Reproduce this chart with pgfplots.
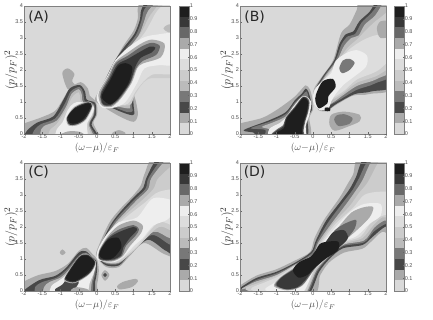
\documentclass[border=0pt]{standalone}
\usepackage{fontspec}
\setmainfont{Liberation Sans}
\newfontfamily\lab{DejaVu Sans}
\usepackage{pgfplots}
\pgfplotsset{compat=1.18}
\definecolor{c0}{HTML}{D9D9D9}
\definecolor{c1}{HTML}{AAAAAA}
\definecolor{c2}{HTML}{484848}
\definecolor{c3}{HTML}{787878}
\definecolor{c4}{HTML}{BBBBBB}
\definecolor{c5}{HTML}{CCCCCC}
\definecolor{c6}{HTML}{DDDDDD}
\definecolor{c7}{HTML}{EEEEEE}
\definecolor{c8}{HTML}{AAAAAA}
\definecolor{c9}{HTML}{686868}
\definecolor{c10}{HTML}{383838}
\definecolor{c11}{HTML}{1E1E1E}
\newcommand{\lv}[2]{\addplot[fill=#1,draw=none,smooth cycle] coordinates {#2};}
\newcommand{\band}[3]{\addplot[fill=#1,draw=none] coordinates {(0,#2) (1,#2) (1,#3) (0,#3)} --cycle;}
\pgfplotsset{
  panel/.style={
    scale only axis, width=146pt, height=128pt,
    xmin=-2, xmax=2, ymin=0, ymax=4,
    xtick={-2,-1.5,...,2}, ytick={0,0.5,...,4},
    xticklabels={-2,-1.5,-1,-0.5,0,0.5,1,1.5,2},
    yticklabels={0,0.5,1,1.5,2,2.5,3,3.5,4},
    tick pos=left, tick style={draw=black!60, line width=0.3pt}, major tick length=1.5pt,
    ticklabel style={font=\fontsize{5.5}{5.5}\selectfont, text=black!70, inner sep=0.8pt},
    axis line style={draw=black!50, line width=0.3pt},
    axis background/.style={fill=c0},
    xlabel={$(\omega{-}\mu)/\varepsilon_F$},
    ylabel={$(p/p_F)^2$},
    xlabel style={font=\fontsize{10}{10}\selectfont, at={(axis description cs:0.5,-0.11)}, anchor=center, text=black!70},
    ylabel style={font=\fontsize{12.5}{12.5}\selectfont, at={(axis description cs:-0.09,0.5)}, anchor=center, text=black!80},
    axis on top,
  },
  cbar/.style={
    scale only axis, width=10pt, height=128pt,
    xmin=0, xmax=1, ymin=0, ymax=1,
    xtick=\empty, ytick={0,0.1,...,1},
    yticklabels={0,0.1,0.2,0.3,0.4,0.5,0.6,0.7,0.8,0.9,1},
    ytick pos=right, yticklabel pos=right,
    tick style={draw=black!60, line width=0.3pt}, major tick length=1pt,
    ticklabel style={font=\fontsize{5.5}{5.5}\selectfont, text=black!70, inner sep=0.6pt},
    axis line style={draw=black!50, line width=0.4pt},
    axis on top,
  },
}
\newcommand{\colbar}{
  \band{c0}{0}{0.0833}\band{c1}{0.0833}{0.1667}\band{c2}{0.1667}{0.25}\band{c3}{0.25}{0.3333}
  \band{c4}{0.3333}{0.4167}\band{c5}{0.4167}{0.5}\band{c6}{0.5}{0.5833}\band{c7}{0.5833}{0.6667}
  \band{c8}{0.6667}{0.75}\band{c9}{0.75}{0.8333}\band{c10}{0.8333}{0.9167}\band{c11}{0.9167}{1}
}
\begin{document}
\begin{tikzpicture}[x=1pt,y=1pt]
\useasboundingbox (0,0) rectangle (433,320);

% panel A
\begin{axis}[panel, at={(24pt,186pt)}, anchor=south west]
\lv{c1}{(-0.95,1.9) (-0.8,2.05) (-0.62,1.88) (-0.68,1.65) (-0.55,1.45) (-0.8,1.4)}
\lv{c1}{(-2.2,0.25) (-2,0.33) (-1.5,0.53) (-1.15,0.72) (-0.95,1.05) (-0.75,1.42) (-0.45,1.62) (-0.25,1.42) (-0.2,1.2) (-0.08,1.08) (0,0.9) (0,0.6) (-0.1,0.35) (0.02,0.05) (0.1,-0.2) (-2.2,-0.2)}
\lv{c2}{(-1.95,0.05) (-1.65,0.35) (-1.2,0.55) (-0.92,1.07) (-0.74,1.43) (-0.47,1.53) (-0.33,1.33) (-0.28,1.07) (-0.05,0.97) (-0.03,0.6) (-0.15,0.3) (-0.05,-0.2) (-1.85,-0.2)}
\lv{c3}{(-1.75,0.05) (-1.55,0.3) (-1.15,0.48) (-0.88,0.95) (-0.72,1.33) (-0.48,1.47) (-0.38,1.3) (-0.33,1.02) (-0.08,0.93) (-0.08,0.6) (-0.2,0.3) (-0.1,-0.2) (-1.65,-0.2)}
\lv{c4}{(-1.55,0.05) (-1.45,0.25) (-1.1,0.42) (-0.85,0.85) (-0.7,1.25) (-0.5,1.4) (-0.42,1.25) (-0.38,1.0) (-0.1,0.9) (-0.1,0.6) (-0.22,0.3) (-0.15,-0.2) (-1.4,-0.2)}
\lv{c5}{(-1.3,0.1) (-1.1,0.32) (-0.85,0.75) (-0.68,1.15) (-0.5,1.3) (-0.45,1.05) (-0.42,1) (-0.1,0.88) (-0.12,0.6) (-0.25,0.3) (-0.2,-0.2) (-1.25,-0.2)}
\lv{c7}{(-1.1,0.15) (-0.95,0.35) (-0.8,0.75) (-0.65,0.95) (-0.45,1.0) (-0.1,0.85) (-0.14,0.6) (-0.28,0.3) (-0.3,-0.2) (-1.1,-0.2)}
\lv{c1}{(-1.1,-0.1) (-0.8,0.08) (-0.45,0.06) (-0.35,-0.1)}
\lv{c8}{(-0.84,0.5) (-0.62,0.85) (-0.24,1.02) (-0.12,0.88) (-0.3,0.45) (-0.55,0.27) (-0.78,0.27)}
\lv{c10}{(-0.82,0.52) (-0.6,0.83) (-0.24,0.99) (-0.14,0.87) (-0.32,0.47) (-0.56,0.3) (-0.76,0.3)}
\lv{c11}{(-0.79,0.55) (-0.6,0.8) (-0.24,0.96) (-0.17,0.86) (-0.35,0.5) (-0.56,0.34) (-0.74,0.34)}
\lv{c1}{(-0.05,1.12) (0.1,1.45) (0.45,2.2) (0.72,2.75) (1.0,3.22) (1.12,3.62) (1.12,3.95) (1.3,4.2) (2.3,4.2) (2.3,2.4) (1.4,2.1) (1.0,1.5) (1.08,0.95) (1.12,0.6) (1.0,0.38) (0.62,0.55) (0.17,0.85) (-0.03,1.0)}
\lv{c2}{(0.05,1.2) (0.42,2.15) (0.72,2.68) (1.02,3.12) (1.17,3.55) (1.22,3.9) (1.45,4.2) (2.3,4.2) (2.3,2.4) (1.4,2.1) (1.0,1.5) (1.0,0.95) (1.02,0.62) (0.9,0.6) (0.6,0.72) (0.3,0.88) (0.1,1.0)}
\lv{c3}{(0.1,1.2) (0.45,2.1) (0.78,2.65) (1.07,3.1) (1.22,3.55) (1.3,3.9) (1.6,4.2) (2.3,4.2) (2.3,2.4) (1.4,2.1) (1.0,1.5) (0.95,0.95) (0.98,0.72) (0.85,0.68) (0.6,0.78) (0.3,0.92) (0.12,1.0)}
\lv{c4}{(0.1,1.25) (0.5,2.1) (0.85,2.65) (1.15,3.1) (1.3,3.55) (1.4,3.85) (1.75,4.2) (2.3,4.2) (2.3,2.4) (1.4,2.1) (1.0,1.5) (0.9,0.95) (0.9,0.8) (0.6,0.85) (0.3,0.95)}
\lv{c5}{(0.1,1.25) (0.52,2.1) (0.9,2.7) (1.2,3.15) (1.4,3.6) (1.55,3.85) (1.85,4.2) (2.3,4.2) (2.3,1.95) (1.4,1.72) (1.05,1.25) (0.92,0.92) (0.6,0.9) (0.3,0.97)}
\lv{c6}{(0.1,1.25) (0.55,2.1) (1.0,2.75) (1.3,3.15) (1.5,3.55) (1.65,3.85) (2.0,4.2) (2.3,4.2) (2.3,2.05) (1.5,1.85) (1.1,1.4) (0.85,0.95) (0.5,0.9) (0.2,0.97)}
\lv{c4}{(1.82,3.3) (1.95,3.42) (2.2,3.4) (2.2,3.18) (1.95,3.18)}
\lv{c7}{(0.0,1.05) (0.02,1.28) (0.3,1.85) (0.5,2.3) (0.85,2.7) (1.25,3.0) (1.6,3.1) (2.2,3.1) (2.2,2.2) (1.7,2.15) (1.3,2.05) (1.1,1.6) (0.78,1.0) (0.45,0.82) (0.15,0.82)}
\lv{c8}{(0.07,1.02) (0.05,1.3) (0.3,1.8) (0.5,2.25) (0.85,2.55) (1.2,2.82) (1.5,2.95) (1.85,2.82) (1.75,2.4) (1.25,2.2) (1.1,2.05) (0.95,1.6) (0.65,1.1) (0.4,0.85) (0.15,0.87)}
\lv{c9}{(0.1,1.05) (0.1,1.3) (0.33,1.78) (0.52,2.22) (0.85,2.45) (1.2,2.72) (1.5,2.85) (1.72,2.75) (1.62,2.47) (1.25,2.28) (1.07,2.05) (0.92,1.6) (0.62,1.1) (0.38,0.88) (0.17,0.9)}
\lv{c10}{(0.12,1.08) (0.12,1.28) (0.35,1.73) (0.56,2.17) (0.85,2.35) (1.15,2.55) (1.45,2.73) (1.6,2.7) (1.5,2.55) (1.2,2.38) (1.05,2.1) (0.9,1.6) (0.6,1.12) (0.36,0.9) (0.17,0.93)}
\lv{c11}{(0.17,1.07) (0.14,1.23) (0.37,1.69) (0.58,2.13) (0.81,2.21) (0.97,2.06) (0.86,1.59) (0.58,1.12) (0.36,0.93)}
\lv{c1}{(0.42,0.03) (0.6,0.12) (0.78,0.03) (0.7,-0.1) (0.45,-0.1)}
\node[font=\lab\fontsize{14}{14}\selectfont, text=black!85] at (rel axis cs:0.1,0.91) {(A)};
\end{axis}
\begin{axis}[cbar, at={(179pt,186pt)}, anchor=south west]
\colbar
\end{axis}

% panel B
\begin{axis}[panel, at={(240pt,186pt)}, anchor=south west]
% lower left
\lv{c1}{(-2.2,0.22) (-2,0.33) (-1.4,0.5) (-1.0,0.75) (-0.55,1.12) (-0.35,1.35) (-0.2,1.52) (-0.08,1.38) (0,1.0) (0.0,0.75) (-0.1,0.5) (-0.2,-0.2) (-2.2,-0.2)}
\lv{c2}{(-1.9,0.12) (-1.2,0.43) (-0.75,0.68) (-0.5,1.05) (-0.3,1.27) (-0.2,1.42) (-0.12,1.3) (-0.05,1.0) (-0.03,0.75) (-0.15,0.5) (-0.25,-0.2) (-1.75,-0.2) (-1.6,0.03)}
\lv{c3}{(-1.7,0.18) (-1.2,0.38) (-0.75,0.62) (-0.5,0.98) (-0.28,1.22) (-0.17,1.33) (-0.1,1.0) (-0.07,0.75) (-0.18,0.5) (-0.28,-0.2) (-1.3,-0.2) (-1.3,0.12)}
\lv{c4}{(-1.4,0.22) (-1.1,0.36) (-0.75,0.55) (-0.5,0.92) (-0.28,1.18) (-0.12,0.98) (-0.1,0.75) (-0.2,0.45) (-0.3,-0.2) (-1.2,-0.2) (-1.15,0.12)}
\lv{c7}{(-1.2,0.15) (-0.9,0.35) (-0.75,0.5) (-0.52,0.88) (-0.25,1.19) (-0.05,1.0) (-0.1,0.6) (-0.2,0.25) (-0.25,-0.2) (-1.15,-0.2)}
\lv{c9}{(-1.15,-0.1) (-0.97,0.16) (-0.82,0.27) (-0.74,0.52) (-0.51,0.84) (-0.27,1.17) (-0.1,1.04) (-0.13,0.7) (-0.21,0.4) (-0.26,0.1) (-0.27,-0.2)}
\lv{c10}{(-1.12,-0.1) (-0.96,0.13) (-0.81,0.23) (-0.73,0.51) (-0.5,0.82) (-0.27,1.15) (-0.12,1.03) (-0.15,0.7) (-0.23,0.4) (-0.28,0.1) (-0.29,-0.2)}
\lv{c11}{(-1.1,-0.1) (-0.95,0.08) (-0.8,0.18) (-0.71,0.5) (-0.5,0.79) (-0.27,1.12) (-0.14,1.02) (-0.17,0.7) (-0.25,0.4) (-0.31,0.1) (-0.33,-0.1)}
% upper ridge
\lv{c1}{(0.02,1.1) (0.03,1.42) (0.25,1.8) (0.55,2.3) (0.77,3.15) (1.0,3.42) (1.2,3.88) (1.32,4.2) (2.3,4.2) (2.3,1.6) (1.55,1.25) (1.1,1.2) (0.62,0.9) (0.38,0.72) (0.15,0.75)}
\lv{c2}{(0.06,1.1) (0.06,1.4) (0.3,1.85) (0.58,2.3) (0.72,2.8) (0.9,3.12) (1.1,3.2) (1.27,3.52) (1.55,3.82) (1.8,4.2) (2.3,4.2) (2.3,1.68) (1.6,1.33) (1.15,1.25) (0.65,0.95) (0.4,0.75) (0.15,0.78)}
\lv{c3}{(0.06,1.1) (0.08,1.38) (0.33,1.85) (0.62,2.3) (0.78,2.8) (0.95,3.05) (1.15,3.12) (1.33,3.48) (1.6,3.78) (1.92,4.2) (2.3,4.2) (2.3,2.05) (1.7,1.58) (1.2,1.38) (0.7,1.05) (0.45,0.9) (0.15,0.8)}
\lv{c4}{(0.06,1.1) (0.1,1.38) (0.36,1.85) (0.66,2.3) (0.85,2.75) (1.05,3.0) (1.25,3.08) (1.42,3.42) (1.7,3.7) (2.0,4.2) (2.3,4.2) (2.3,2.2) (1.75,1.72) (1.2,1.5) (0.75,1.15) (0.5,0.95) (0.15,0.82)}
\lv{c5}{(0.06,1.1) (0.1,1.38) (0.4,1.85) (0.7,2.3) (0.95,2.7) (1.2,2.95) (1.5,3.3) (1.8,3.6) (2.3,3.9) (2.3,2.4) (1.8,1.85) (1.2,1.6) (0.8,1.25) (0.5,1.05) (0.15,0.85)}
\lv{c6}{(0.06,1.1) (0.1,1.38) (0.42,1.85) (0.7,2.25) (1.0,2.65) (1.4,2.95) (1.8,3.1) (2.3,3.0) (2.3,2.6) (1.8,2.0) (1.2,1.7) (0.85,1.35) (0.5,1.1) (0.15,0.88)}
\lv{c1}{(1.85,3.0) (1.75,3.3) (1.85,3.52) (2.1,3.5) (2.2,3.1)}
\lv{c7}{(0,1.02) (0.05,1.4) (0.32,1.72) (0.5,1.9) (0.62,2.28) (0.9,2.52) (1.2,2.62) (1.48,2.45) (1.45,2.1) (1.1,1.77) (0.85,1.55) (0.62,1.25) (0.5,1.02) (0.42,0.8) (0.18,0.75)}
\lv{c3}{(0.72,2.05) (0.82,2.3) (1.0,2.35) (1.14,2.22) (1.0,2.0) (0.8,1.9)}
\lv{c11}{(0.33,0.82) (0.45,0.82) (0.47,0.72) (0.33,0.72)}
\lv{c11}{(0.07,1.0) (0.08,1.23) (0.26,1.64) (0.54,1.72) (0.62,1.47) (0.42,1.18) (0.4,0.97) (0.17,0.8)}
% lower right blob
\lv{c1}{(0.45,0.3) (0.5,0.6) (0.85,0.7) (1.28,0.6) (1.28,0.4) (1.0,0.25) (0.6,0.1)}
\lv{c3}{(0.58,0.45) (0.65,0.58) (0.85,0.62) (1.08,0.5) (1.0,0.32) (0.7,0.25)}
\node[font=\lab\fontsize{14}{14}\selectfont, text=black!85] at (rel axis cs:0.1,0.91) {(B)};
\end{axis}
\begin{axis}[cbar, at={(394pt,186pt)}, anchor=south west]
\colbar
\end{axis}

% panel C
\begin{axis}[panel, at={(24pt,29pt)}, anchor=south west]
\lv{c1}{(-1.02,1.2) (-0.95,1.3) (-0.86,1.2) (-0.95,1.12)}
\lv{c1}{(-2.2,0.15) (-2,0.3) (-1.6,0.5) (-1.15,0.62) (-0.8,0.85) (-0.5,1.25) (-0.3,1.35) (-0.12,1.15) (0,1.0) (0.05,0.65) (0,0.2) (-0.15,-0.2) (-2.2,-0.2)}
\lv{c2}{(-2.1,-0.1) (-1.6,0.33) (-1.15,0.47) (-0.85,0.72) (-0.5,1.2) (-0.3,1.24) (-0.15,1.07) (-0.02,0.95) (0,0.65) (-0.05,0.3) (-0.2,-0.2) (-1.65,-0.2)}
\lv{c3}{(-1.7,0.1) (-1.5,0.28) (-1.1,0.42) (-0.8,0.7) (-0.5,1.1) (-0.3,1.2) (-0.15,1.03) (-0.04,0.92) (-0.03,0.65) (-0.1,0.3) (-0.25,-0.2) (-1.55,-0.2)}
\lv{c4}{(-1.45,0.12) (-1.3,0.28) (-1.0,0.42) (-0.8,0.63) (-0.5,1.05) (-0.3,1.17) (-0.15,1.0) (-0.05,0.9) (-0.06,0.65) (-0.14,0.3) (-0.3,-0.2) (-1.4,-0.2)}
\lv{c7}{(-1.25,0.15) (-1.05,0.32) (-0.85,0.5) (-0.5,1.0) (-0.3,1.14) (-0.04,0.9) (-0.08,0.6) (-0.2,0.25) (-0.35,-0.2) (-1.25,-0.2)}
\lv{c2}{(-1.15,0.05) (-0.95,0.2) (-0.8,0.4) (-0.6,0.33) (-0.5,0.3) (-0.55,0.15) (-0.85,-0.2) (-1.1,-0.1)}
\lv{c1}{(-0.7,0.05) (-0.55,0.12) (-0.25,0.05) (-0.2,-0.1) (-0.7,-0.1)}
\lv{c8}{(-0.87,0.45) (-0.5,1.07) (-0.27,1.16) (-0.03,0.9) (-0.2,0.53) (-0.6,0.25) (-0.87,0.3)}
\lv{c10}{(-0.85,0.47) (-0.5,1.05) (-0.27,1.14) (-0.05,0.9) (-0.21,0.55) (-0.6,0.28) (-0.85,0.33)}
\lv{c11}{(-0.82,0.49) (-0.49,1.03) (-0.28,1.11) (-0.07,0.9) (-0.23,0.58) (-0.6,0.31) (-0.82,0.36)}
% upper
\lv{c1}{(0,1.05) (0,1.28) (0.32,2.1) (0.6,2.52) (1,3.0) (1.2,3.3) (1.3,3.65) (1.55,4.2) (2.3,4.2) (2.3,2.4) (2.3,1.1) (1.85,1.15) (1.3,1.5) (0.9,1.1) (0.6,0.75) (0.25,0.75)}
\lv{c2}{(0.02,1.05) (0.04,1.28) (0.36,2.04) (0.63,2.46) (1,2.92) (1.27,3.23) (1.36,3.55) (1.7,4.2) (2.3,4.2) (2.3,1.2) (1.9,1.25) (1.4,1.6) (0.9,1.15) (0.6,0.8) (0.25,0.8)}
\lv{c3}{(0.04,1.05) (0.06,1.28) (0.4,2.04) (0.67,2.43) (1.05,2.88) (1.33,3.2) (1.42,3.55) (1.85,4.2) (2.3,4.2) (2.3,1.5) (2.0,1.45) (1.5,1.75) (0.95,1.2) (0.6,0.85) (0.25,0.85)}
\lv{c4}{(0.05,1.05) (0.08,1.28) (0.45,2.04) (0.75,2.43) (1.1,2.85) (1.4,3.18) (1.5,3.55) (1.98,4.2) (2.3,4.2) (2.3,1.75) (2.0,1.65) (1.55,1.85) (1.0,1.25) (0.6,0.88) (0.25,0.88)}
\lv{c5}{(0.05,1.05) (0.08,1.28) (0.5,2.04) (0.8,2.4) (1.2,2.8) (1.55,3.2) (1.7,3.55) (2.3,3.95) (2.3,1.9) (1.7,2.0) (1.05,1.3) (0.6,0.9) (0.25,0.9)}
\lv{c6}{(0.05,1.05) (0.08,1.28) (0.55,2.04) (0.9,2.4) (1.3,2.75) (1.7,3.1) (2.3,3.1) (2.3,2.0) (1.7,2.15) (1.1,1.4) (0.6,0.95) (0.25,0.92)}
\lv{c7}{(0.0,1.0) (0.02,1.28) (0.25,1.75) (0.6,2.15) (1.1,2.3) (1.55,2.9) (2.2,2.75) (1.95,2.25) (1.55,2.05) (1.25,1.65) (1.05,1.45) (0.7,1.05) (0.45,0.9) (0.15,0.93)}
\lv{c8}{(0.04,1.02) (0.06,1.27) (0.3,1.72) (0.6,2.05) (1.0,2.2) (1.25,2.05) (1.2,1.8) (0.9,1.4) (0.7,1.08) (0.45,0.93) (0.18,0.93)}
\lv{c9}{(0.05,1.02) (0.07,1.27) (0.3,1.67) (0.6,1.92) (1.0,2.06) (1.15,1.92) (1.05,1.72) (0.8,1.42) (0.68,1.1) (0.45,0.96) (0.18,0.95)}
\lv{c10}{(0.06,1.03) (0.08,1.25) (0.3,1.63) (0.6,1.84) (1.0,2.0) (1.1,1.91) (0.9,1.66) (0.72,1.36) (0.66,1.12) (0.45,0.99) (0.2,0.97)}
\lv{c11}{(0.08,1.08) (0.08,1.23) (0.3,1.6) (0.58,1.66) (0.67,1.37) (0.45,1.04) (0.22,0.99)}
% spots
\lv{c1}{(0.12,0.5) (0.22,0.65) (0.34,0.5) (0.22,0.32)}
\lv{c2}{(0.17,0.5) (0.22,0.56) (0.27,0.5) (0.22,0.44)}
\lv{c1}{(0.55,0.15) (0.7,0.28) (1.05,0.38) (1.12,0.3) (0.95,0.12) (0.62,0.05)}
\node[font=\lab\fontsize{14}{14}\selectfont, text=black!85] at (rel axis cs:0.1,0.93) {(C)};
\end{axis}
\begin{axis}[cbar, at={(179pt,29pt)}, anchor=south west]
\colbar
\end{axis}

% panel D
\begin{axis}[panel, at={(240pt,29pt)}, anchor=south west]
\lv{c1}{(-2.3,-0.1) (-2,0.17) (-1.55,0.48) (-1.0,0.68) (-0.5,0.95) (-0.08,1.22) (0.04,1.65) (0.3,2.22) (0.72,2.9) (0.95,3.35) (1.1,3.65) (1.28,4.2) (2.3,4.2) (2.3,1.85) (1.9,1.85) (1.6,1.55) (1.35,1.32) (0.85,1.2) (0.45,0.9) (0.2,0.5) (-0.1,-0.2)}
\lv{c2}{(-2.2,-0.1) (-1.6,0.38) (-1.0,0.6) (-0.5,0.88) (-0.05,1.22) (0.08,1.58) (0.36,2.2) (0.77,2.82) (1,3.18) (1.17,3.54) (1.45,4.2) (2.3,4.2) (2.3,1.95) (2,2.02) (1.64,1.7) (1.36,1.44) (0.81,1.33) (0.45,1.0) (0.17,0.6) (-0.2,-0.2) (-1.2,-0.2) (-1.1,0.1) (-1.2,0.25)}
\lv{c3}{(-2.1,-0.1) (-1.6,0.32) (-1.0,0.55) (-0.5,0.84) (-0.03,1.18) (0.12,1.56) (0.42,2.15) (0.83,2.78) (1.08,3.15) (1.25,3.5) (1.6,4.2) (2.3,4.2) (2.3,2.1) (2,2.1) (1.66,1.85) (1.4,1.52) (0.82,1.4) (0.45,1.07) (0.12,0.62) (-0.25,-0.2) (-1.1,-0.2) (-1.05,0.08) (-1.05,0.3)}
\lv{c4}{(-1.95,0.05) (-1.6,0.28) (-1.0,0.5) (-0.5,0.82) (0,1.15) (0.15,1.53) (0.5,2.1) (0.9,2.7) (1.15,3.1) (1.35,3.45) (1.7,4.2) (2.3,4.2) (2.3,2.3) (1.95,2.2) (1.68,1.98) (1.4,1.58) (0.85,1.45) (0.45,1.1) (0.1,0.65) (-0.28,-0.2) (-1.0,-0.2) (-1.0,0.1) (-1,0.35)}
\lv{c5}{(-1.85,0.05) (-1.5,0.25) (-1.0,0.48) (-0.5,0.8) (0,1.13) (0.2,1.53) (0.55,2.1) (1,2.65) (1.25,3.05) (1.5,3.4) (1.9,4.2) (2.3,4.2) (2.3,2.4) (1.9,2.3) (1.65,2.05) (1.35,1.65) (0.85,1.48) (0.45,1.12) (0.08,0.68) (-0.3,-0.2) (-1,-0.2)}
\lv{c6}{(-1.7,0.05) (-1.3,0.28) (-0.9,0.48) (-0.5,0.78) (0,1.1) (0.22,1.5) (0.62,2.1) (1.1,2.6) (1.4,3.0) (1.8,3.1) (2.3,3.05) (2.3,2.5) (1.9,2.35) (1.6,2.15) (1.3,1.7) (0.85,1.52) (0.45,1.15) (0.05,0.7) (-0.35,-0.2) (-1.0,-0.2)}
\lv{c7}{(-1.3,0.02) (-1,0.3) (-0.5,0.75) (0,1.08) (0.25,1.48) (0.7,2.1) (1.05,2.5) (1.4,2.72) (1.85,2.72) (1.85,2.35) (1.55,2.1) (1.2,1.72) (0.85,1.55) (0.45,1.2) (0.05,0.72) (-0.35,-0.1)}
\lv{c8}{(-1.07,0.15) (-0.9,0.42) (-0.5,0.74) (0,1.09) (0.3,1.47) (0.7,2.0) (1.05,2.45) (1.4,2.62) (1.65,2.62) (1.55,2.3) (1.2,1.9) (0.85,1.56) (0.45,1.18) (0.05,0.7) (-0.3,0.16) (-0.7,0.02)}
\lv{c9}{(-1.03,0.17) (-0.88,0.42) (-0.5,0.71) (0,1.08) (0.3,1.46) (0.6,1.9) (0.9,2.12) (1.18,2.22) (1.14,1.95) (0.92,1.63) (0.5,1.22) (0.08,0.74) (-0.25,0.24) (-0.45,0.09) (-0.7,0.04)}
\lv{c10}{(-1.0,0.19) (-0.86,0.42) (-0.5,0.69) (-0.35,0.83) (0,1.07) (0.2,1.33) (0.35,1.53) (0.55,1.83) (0.85,1.9) (0.95,1.63) (0.62,1.27) (0.3,0.97) (0.02,0.7) (-0.23,0.32) (-0.43,0.12) (-0.75,0.06)}
\lv{c11}{(-0.55,0.65) (-0.38,0.9) (-0.07,1.07) (0.08,1.28) (0.23,1.5) (0.68,1.55) (0.68,1.27) (0.33,1.0) (0.08,0.76) (-0.16,0.5) (-0.4,0.42)}
\node[font=\lab\fontsize{14}{14}\selectfont, text=black!85] at (rel axis cs:0.1,0.93) {(D)};
\end{axis}
\begin{axis}[cbar, at={(394pt,29pt)}, anchor=south west]
\colbar
\end{axis}
\end{tikzpicture}
\end{document}
